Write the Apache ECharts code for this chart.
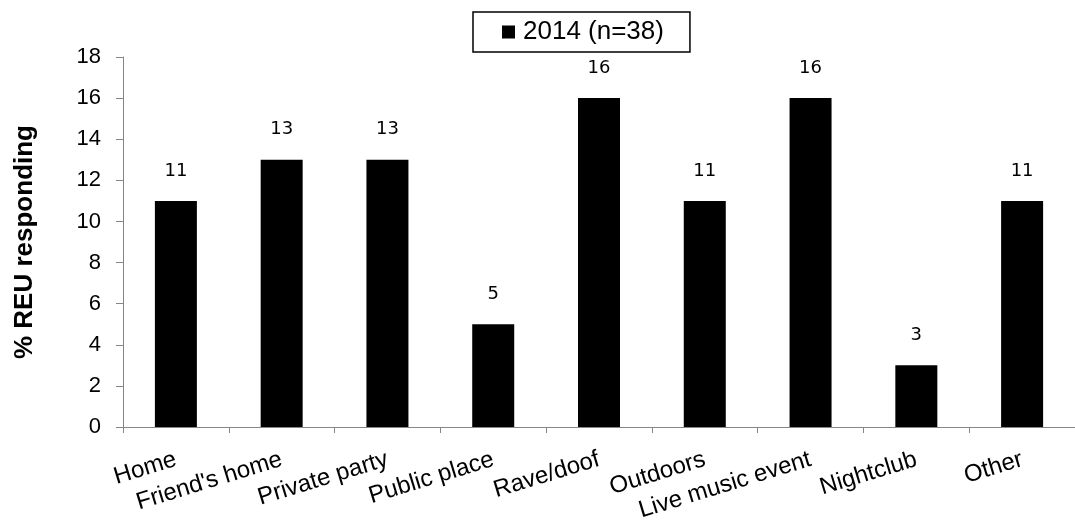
<!DOCTYPE html>
<html>
<head>
<meta charset="utf-8">
<script src="https://cdn.jsdelivr.net/npm/echarts@6/dist/echarts.min.js"></script>
<style>
html,body{margin:0;padding:0;background:#fff;}
#chart{width:1075px;height:526px;}
</style>
</head>
<body>
<div id="chart"></div>
<script>
const categories = ["Home", "Friend's home", "Private party", "Public place", "Rave/doof", "Outdoors", "Live music event", "Nightclub", "Other"];
const values2014 = [11, 13, 13, 5, 16, 11, 16, 3, 11];
const seriesName = "2014 (n=38)";
const yTitle = "% REU responding";

const chart = echarts.init(document.getElementById('chart'), null, {renderer: 'canvas'});
const axisGray = '#868686';
chart.setOption({
  animation: false,
  backgroundColor: '#fff',
  grid: {left: 123, top: 57, width: 956, bottom: 99, containLabel: false},
  legend: {
    data: [seriesName],
    left: 473, top: 12,
    icon: 'rect', itemWidth: 13, itemHeight: 13,
    padding: [7, 26, 7, 29],
    borderColor: '#000', borderWidth: 1.5,
    textStyle: {fontFamily: 'Liberation Sans, Arial', fontSize: 26, color: '#000', padding: [0, 0, 0, 3]}
  },
  xAxis: {
    type: 'category',
    data: categories,
    axisLine: {lineStyle: {color: axisGray, width: 1}},
    axisTick: {show: true, length: 6, lineStyle: {color: axisGray}},
    axisLabel: {rotate: 17, interval: 0, margin: 32, fontFamily: 'Liberation Sans, Arial', fontSize: 24, color: '#000'}
  },
  yAxis: {
    type: 'value', min: 0, max: 18, interval: 2,
    name: yTitle, nameLocation: 'middle', nameGap: 85,
    nameTextStyle: {fontFamily: 'Liberation Sans, Arial', fontSize: 26, fontWeight: 'bold', color: '#000'},
    axisLine: {show: true, lineStyle: {color: axisGray, width: 1}},
    axisTick: {show: true, length: 7, lineStyle: {color: axisGray}},
    splitLine: {show: false},
    axisLabel: {margin: 22, fontFamily: 'Liberation Sans, Arial', fontSize: 22, color: '#000'}
  },
  series: [{
    name: seriesName,
    type: 'bar',
    data: values2014,
    barWidth: 42,
    itemStyle: {color: '#000'},
    label: {show: true, position: 'top', distance: 21, fontFamily: 'DejaVu Sans', fontSize: 18, color: '#000'}
  }]
});
</script>
</body>
</html>
